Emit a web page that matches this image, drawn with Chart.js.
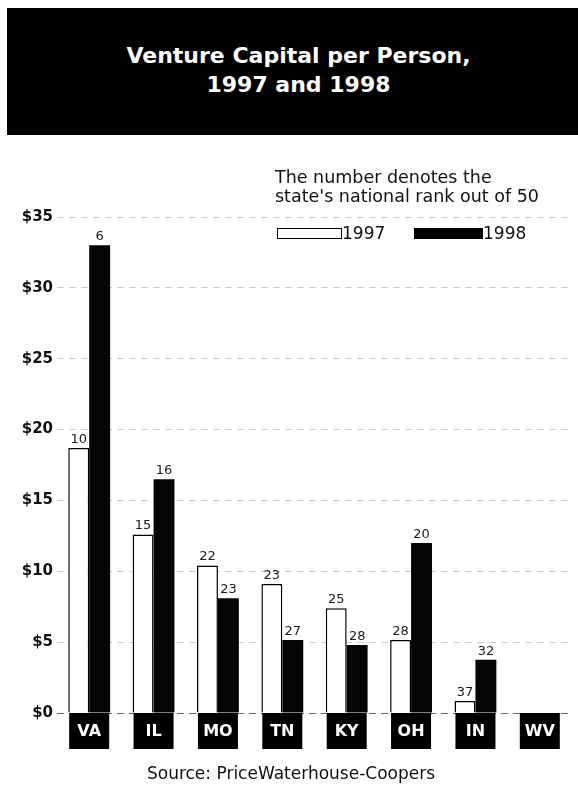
<!DOCTYPE html>
<html>
<head>
<meta charset="utf-8">
<script src="https://cdn.jsdelivr.net/npm/chart.js@4/dist/chart.umd.min.js"></script>
<style>
  html, body { margin: 0; padding: 0; background: #fff; }
  #wrap { position: relative; width: 578px; height: 788px; overflow: hidden; font-family: "DejaVu Sans", sans-serif; color: #111; }
  #chart { position: absolute; left: 0; top: 0; }
  #title { position: absolute; left: 7px; top: 8px; width: 571px; height: 127px; background: #000; color: #fff;
           font-weight: bold; font-size: 22px; line-height: 29px; text-align: center; box-sizing: border-box; padding: 33px 0 0 12px; }
  #note { position: absolute; left: 275px; top: 168px; font-size: 17.5px; line-height: 19px; color: #111; white-space: nowrap; }
  .swatch { position: absolute; top: 228px; height: 11px; box-sizing: border-box; }
  .legtxt { position: absolute; top: 224px; font-size: 17px; line-height: 18px; color: #111; }
  #source { position: absolute; left: 0; width: 582px; top: 763px; text-align: center; font-size: 17px; color: #111; }
</style>
</head>
<body>
<div id="wrap">
  <canvas id="chart" width="578" height="788"></canvas>
  <div id="title">Venture Capital per Person,<br>1997 and 1998</div>
  <div id="note">The number denotes the<br>state's national rank out of 50</div>
  <div class="swatch" style="left:277px;width:65px;border:1.5px solid #000;background:#fff;"></div>
  <div class="legtxt" style="left:342px;">1997</div>
  <div class="swatch" style="left:414px;width:69px;background:#000;"></div>
  <div class="legtxt" style="left:483px;">1998</div>
  <div id="source">Source: PriceWaterhouse-Coopers</div>
</div>
<script>
// States shown, in order
const states = ["VA", "IL", "MO", "TN", "KY", "OH", "IN", "WV"];
// Venture capital per person, dollars
const values1997 = [18.7, 12.6, 10.4, 9.1, 7.4, 5.15, 0.85, 0];
const values1998 = [33.0, 16.5, 8.1, 5.15, 4.8, 12.0, 3.75, 0];
// National rank (out of 50) printed above each bar
const rank1997 = [10, 15, 22, 23, 25, 28, 37, null];
const rank1998 = [6, 16, 23, 27, 28, 20, 32, null];
// Dollar axis ticks
const yTicks = [0, 5, 10, 15, 20, 25, 30, 35];

const ranks = [rank1997, rank1998];

// Rank numbers above bars
const rankLabels = {
  id: 'rankLabels',
  afterDatasetsDraw(chart) {
    const ctx = chart.ctx;
    ctx.save();
    ctx.font = '13px "DejaVu Sans", sans-serif';
    ctx.fillStyle = '#1a1a1a';
    ctx.textAlign = 'center';
    ctx.textBaseline = 'bottom';
    chart.data.datasets.forEach((ds, di) => {
      const meta = chart.getDatasetMeta(di);
      meta.data.forEach((bar, i) => {
        const r = ranks[di][i];
        if (r === null || r === undefined) return;
        ctx.fillText(String(r), bar.x, bar.y - 2);
      });
    });
    ctx.restore();
  }
};

// Black state tags hanging below the zero line
const stateTags = {
  id: 'stateTags',
  afterDraw(chart) {
    const ctx = chart.ctx;
    const xs = chart.scales.x;
    const base = chart.scales.y.getPixelForValue(0);
    ctx.save();
    ctx.font = 'bold 16px "DejaVu Sans", sans-serif';
    ctx.textAlign = 'center';
    ctx.textBaseline = 'middle';
    states.forEach((s, i) => {
      const cx = xs.getPixelForValue(i);
      ctx.fillStyle = '#000';
      ctx.fillRect(cx - 20, base, 40, 36);
      ctx.fillStyle = '#fff';
      ctx.fillText(s, cx, base + 19);
    });
    ctx.restore();
  }
};

new Chart(document.getElementById('chart'), {
  type: 'bar',
  data: {
    labels: states,
    datasets: [
      {
        label: '1997',
        data: values1997,
        backgroundColor: '#fff',
        borderColor: '#000',
        borderWidth: 1.5,
        borderSkipped: 'start',
        categoryPercentage: 0.65,
        barPercentage: 1.0
      },
      {
        label: '1998',
        data: values1998,
        backgroundColor: '#050505',
        borderWidth: 0,
        categoryPercentage: 0.65,
        barPercentage: 1.0
      }
    ]
  },
  options: {
    responsive: false,
    animation: false,
    devicePixelRatio: 1,
    layout: { padding: { top: 217, bottom: 75, left: 0, right: 6 } },
    plugins: {
      legend: { display: false },
      tooltip: { enabled: false },
      title: { display: false }
    },
    scales: {
      x: {
        grid: { display: false, drawTicks: false },
        border: { display: false },
        ticks: { display: false }
      },
      y: {
        min: 0,
        max: 35,
        afterBuildTicks(scale) { scale.ticks = yTicks.map(v => ({ value: v })); },
        afterFit(scale) { scale.width = 57; },
        grid: {
          drawTicks: false,
          color: (c) => (c.tick && c.tick.value === 0) ? '#666' : 'rgba(0,0,0,0.2)',
          lineWidth: 1
        },
        border: { display: false, dash: [7, 5] },
        ticks: {
          padding: 4,
          color: '#111',
          font: { family: '"DejaVu Sans", sans-serif', weight: 'bold', size: 15 },
          callback: (v) => '$' + v
        }
      }
    }
  },
  plugins: [rankLabels, stateTags]
});
</script>
</body>
</html>
